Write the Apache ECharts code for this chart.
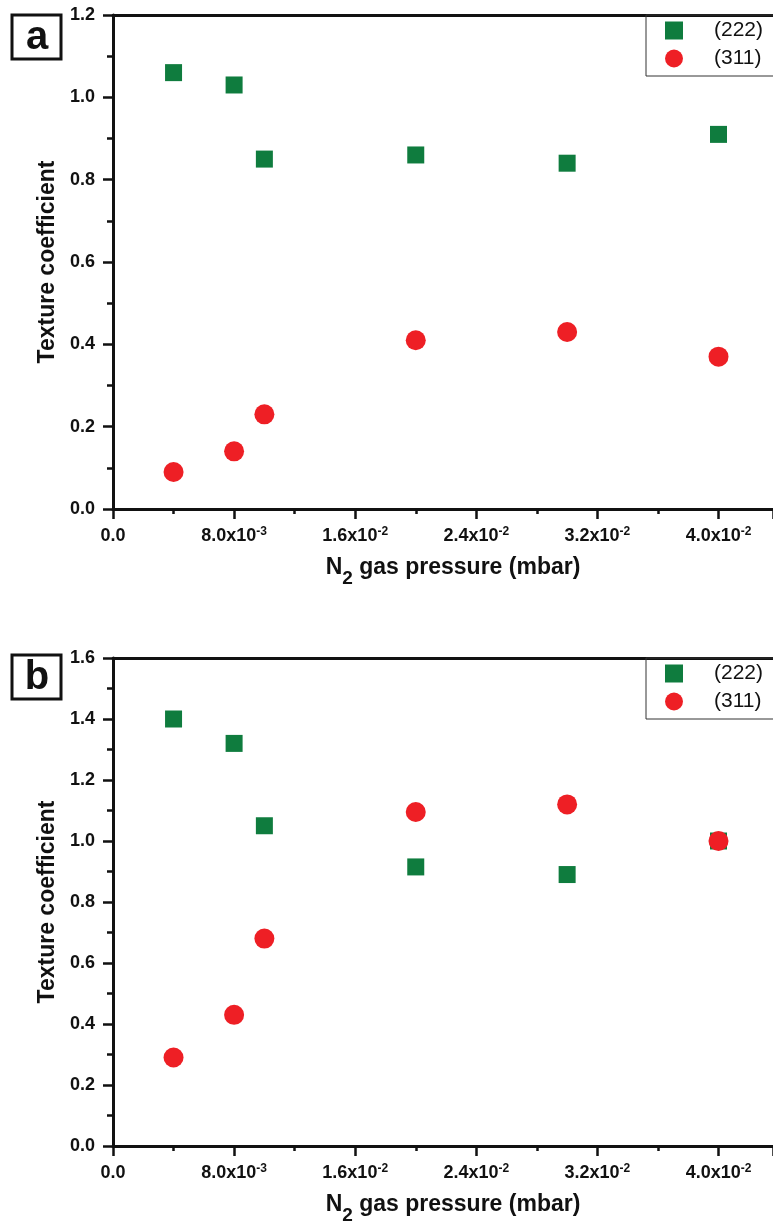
<!DOCTYPE html>
<html>
<head>
<meta charset="utf-8">
<script src="https://cdn.jsdelivr.net/npm/echarts@6/dist/echarts.min.js"></script>
<style>
  html, body { margin: 0; padding: 0; background: #fff; }
  #chart { width: 773px; height: 1228px; }
</style>
</head>
<body>
<div id="chart"></div>
<script>
// N2 pressure (mbar) and texture coefficients
const pressure = [0.004, 0.008, 0.01, 0.02, 0.03, 0.04];
const tcA222 = [1.06, 1.03, 0.85, 0.86, 0.84, 0.91];
const tcA311 = [0.09, 0.14, 0.23, 0.41, 0.43, 0.37];
const tcB222 = [1.4, 1.32, 1.05, 0.915, 0.89, 1.0];
const tcB311 = [0.29, 0.43, 0.68, 1.095, 1.12, 1.0];
const seriesNames = ["(222)", "(311)"];
const xTickValues = [0, 0.008, 0.016, 0.024, 0.032, 0.04];
const xTickLabels = ["0.0", "8.0x10", "1.6x10", "2.4x10", "3.2x10", "4.0x10"];
const xTickPowers = ["", "-3", "-2", "-2", "-2", "-2"];
const yMaxA = 1.2;
const yMaxB = 1.6;
const xMax = 0.0436;

const FONT = "'Liberation Sans', Arial, sans-serif";
const INK = "#111";
const GREEN = "#0f7c3e";
const RED = "#ee1f25";

const xLabel = (v) => {
  const i = xTickValues.findIndex((t) => Math.abs(t - v) < 1e-9);
  if (i < 0) return "";
  return xTickPowers[i]
    ? `{m|${xTickLabels[i]}}{e|${xTickPowers[i]}}`
    : `{m|${xTickLabels[i]}}`;
};

const bottomX = (gridIndex) => ({
  type: "value",
  gridIndex,
  min: 0,
  max: xMax,
  interval: 0.008,
  position: "bottom",
  name: "{n|N}{s|2}{n| gas pressure (mbar)}",
  nameLocation: "middle",
  nameGap: 45,
  nameTextStyle: {
    padding: [0, 0, 0, 20],
    rich: {
      n: { fontFamily: FONT, fontSize: 23, fontWeight: "bold", color: INK, lineHeight: 28 },
      s: { fontFamily: FONT, fontSize: 19, fontWeight: "bold", color: INK, lineHeight: 28, padding: [22, 0, 0, 0] },
    },
  },
  axisLine: { show: true, onZero: false, lineStyle: { color: INK, width: 3 } },
  axisTick: { show: true, length: 10, lineStyle: { color: INK, width: 2.5 } },
  minorTick: { show: true, splitNumber: 2, length: 5, lineStyle: { color: INK, width: 2.5 } },
  splitLine: { show: false },
  axisLabel: {
    margin: 16,
    showMaxLabel: false,
    formatter: xLabel,
    rich: {
      m: { fontFamily: FONT, fontSize: 18, fontWeight: "bold", color: INK, lineHeight: 22 },
      e: { fontFamily: FONT, fontSize: 12, fontWeight: "bold", color: INK, lineHeight: 22, padding: [0, 0, 8, 0] },
    },
  },
});

// top frame line only
const topX = (gridIndex) => ({
  type: "value",
  gridIndex,
  min: 0,
  max: xMax,
  position: "top",
  axisLine: { show: true, onZero: false, lineStyle: { color: INK, width: 3 } },
  axisTick: { show: false },
  axisLabel: { show: false },
  splitLine: { show: false },
});

const leftY = (gridIndex, max) => ({
  type: "value",
  gridIndex,
  min: 0,
  max,
  interval: 0.2,
  name: "Texture coefficient",
  nameLocation: "middle",
  nameGap: 54,
  nameTextStyle: { fontFamily: FONT, fontSize: 23, fontWeight: "bold", color: INK },
  axisLine: { show: true, onZero: false, lineStyle: { color: INK, width: 3 } },
  axisTick: { show: true, length: 10, lineStyle: { color: INK, width: 2.5 } },
  minorTick: { show: true, splitNumber: 2, length: 6, lineStyle: { color: INK, width: 2.5 } },
  splitLine: { show: false },
  axisLabel: {
    margin: 18,
    fontFamily: FONT,
    fontSize: 18,
    fontWeight: "bold",
    color: INK,
    formatter: (v) => v.toFixed(1),
  },
});

const scatter = (name, data, gridIndex) => ({
  name,
  type: "scatter",
  xAxisIndex: gridIndex * 2,
  yAxisIndex: gridIndex,
  symbol: name === seriesNames[0] ? "rect" : "circle",
  symbolSize: name === seriesNames[0] ? 17 : 20,
  itemStyle: { color: name === seriesNames[0] ? GREEN : RED, opacity: 1 },
  data: pressure.map((p, i) => [p, data[i]]),
});

const legendAt = (top) => ({
  orient: "vertical",
  left: 646,
  top,
  padding: [5, 30, 7, 19],
  itemGap: 7,
  itemWidth: 18,
  itemHeight: 18,
  borderColor: "#333",
  borderWidth: 1,
  textStyle: { fontFamily: FONT, fontSize: 21, color: INK, padding: [0, 0, 0, 26] },
  data: [
    { name: seriesNames[0], icon: "rect" },
    { name: seriesNames[1], icon: "circle" },
  ],
});

const panelTag = (letter, y) => ({
  type: "group",
  children: [
    {
      type: "rect",
      shape: { x: 12, y, width: 49, height: 44 },
      style: { fill: "#fff", stroke: INK, lineWidth: 3 },
    },
    {
      type: "text",
      x: 37,
      y: y + 23,
      style: {
        text: letter,
        fontFamily: FONT,
        fontSize: 40,
        fontWeight: "bold",
        fill: INK,
        align: "center",
        verticalAlign: "middle",
      },
    },
  ],
});

const myChart = echarts.init(document.getElementById("chart"), null, { renderer: "canvas" });

myChart.setOption({
  animation: false,
  backgroundColor: "#fff",
  grid: [
    { left: 113, top: 15, width: 660, height: 494 },
    { left: 113, top: 658, width: 660, height: 488 },
  ],
  xAxis: [bottomX(0), topX(0), bottomX(1), topX(1)],
  yAxis: [leftY(0, yMaxA), leftY(1, yMaxB)],
  legend: [legendAt(15), legendAt(658)],
  graphic: [panelTag("a", 15), panelTag("b", 655)],
  series: [
    scatter(seriesNames[0], tcA222, 0),
    scatter(seriesNames[1], tcA311, 0),
    scatter(seriesNames[0], tcB222, 1),
    scatter(seriesNames[1], tcB311, 1),
  ],
});
</script>
</body>
</html>
